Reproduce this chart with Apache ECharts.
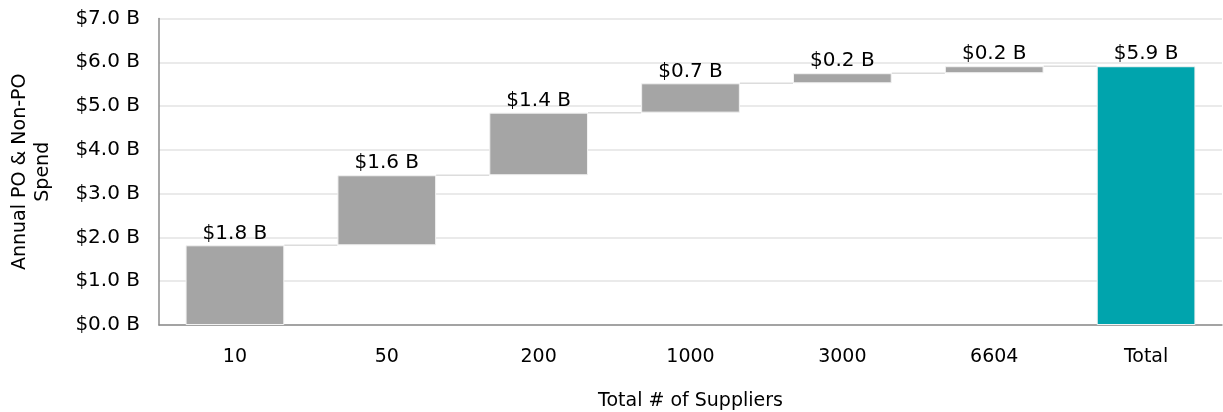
<!DOCTYPE html>
<html>
<head>
<meta charset="utf-8">
<script src="https://cdn.jsdelivr.net/npm/echarts@6/dist/echarts.min.js"></script>
<style>
  html, body { margin: 0; padding: 0; background: #ffffff; }
  #chart { width: 1223px; height: 412px; }
</style>
</head>
<body>
<div id="chart"></div>
<script>
// Supplier tiers (cumulative supplier count) and the spend each tier adds, in $B
const categories = ['10', '50', '200', '1000', '3000', '6604', 'Total'];
const increments = [1.82, 1.60, 1.43, 0.67, 0.23, 0.16];
const totalSpend = 5.91;
const yTicks = [0, 1, 2, 3, 4, 5, 6, 7];

const FONT = 'DejaVu Sans';
const TEXT = '#000000';
const STEP_COLOR = '#a5a5a5';
const TOTAL_COLOR = '#00a4ad';

// Running totals: each step bar floats on the sum of the previous ones
const bases = [];
const tops = [];
let run = 0;
increments.forEach(v => { bases.push(run); run += v; tops.push(run); });

const baseData = bases.concat([0]);
const valueData = increments.map(v => ({ value: v, itemStyle: { color: STEP_COLOR } }))
  .concat([{ value: totalSpend, itemStyle: { color: TOTAL_COLOR } }]);

const fmt = v => '$' + v.toFixed(1) + ' B';
const BAR_PCT = 0.65;

const chart = echarts.init(document.getElementById('chart'), null, { renderer: 'canvas' });
chart.setOption({
  animation: false,
  grid: { left: 159, right: 1, top: 18.5, bottom: 87, containLabel: false, outerBoundsMode: 'none' },
  xAxis: {
    type: 'category',
    data: categories,
    axisLine: { lineStyle: { color: '#8c8c8c', width: 1.5 } },
    axisTick: { show: false },
    axisLabel: { color: TEXT, fontFamily: FONT, fontSize: 19, margin: 23 },
    name: 'Total # of Suppliers',
    nameLocation: 'middle',
    nameGap: 67,
    nameTextStyle: { color: TEXT, fontFamily: FONT, fontSize: 19 }
  },
  yAxis: {
    type: 'value',
    min: yTicks[0],
    max: yTicks[yTicks.length - 1],
    interval: 1,
    axisLine: { show: true, lineStyle: { color: '#8c8c8c', width: 1.5 } },
    axisTick: { show: false },
    splitLine: { lineStyle: { color: '#e3e3e3', width: 1.5 } },
    axisLabel: { color: TEXT, fontFamily: FONT, fontSize: 20, margin: 19, formatter: v => fmt(v) },
    name: 'Annual PO & Non-PO\nSpend',
    nameLocation: 'middle',
    nameGap: 104,
    nameRotate: 90,
    nameTextStyle: { color: TEXT, fontFamily: FONT, fontSize: 19, lineHeight: 23 }
  },
  series: [
    {
      type: 'bar',
      stack: 'wf',
      data: baseData,
      barWidth: (BAR_PCT * 100) + '%',
      itemStyle: { color: 'transparent' },
      silent: true
    },
    {
      type: 'bar',
      stack: 'wf',
      data: valueData,
      barWidth: (BAR_PCT * 100) + '%',
      itemStyle: { borderColor: '#f2f2f2', borderWidth: 1 },
      label: {
        show: true,
        position: 'top',
        distance: 2,
        color: TEXT,
        fontFamily: FONT,
        fontSize: 20,
        formatter: p => fmt(p.value)
      }
    },
    {
      // connector lines between consecutive bars at the running total
      type: 'custom',
      silent: true,
      z: 1,
      data: tops.map((t, i) => [i, t]),
      renderItem: (params, api) => {
        const i = api.value(0);
        const y = api.value(1);
        const a = api.coord([i, y]);
        const b = api.coord([i + 1, y]);
        const half = api.size([1, 0])[0] * BAR_PCT / 2;
        return {
          type: 'line',
          shape: { x1: a[0] + half, y1: a[1], x2: b[0] - half, y2: b[1] },
          style: { stroke: '#dcdcdc', lineWidth: 1.5 }
        };
      }
    }
  ]
});
</script>
</body>
</html>
